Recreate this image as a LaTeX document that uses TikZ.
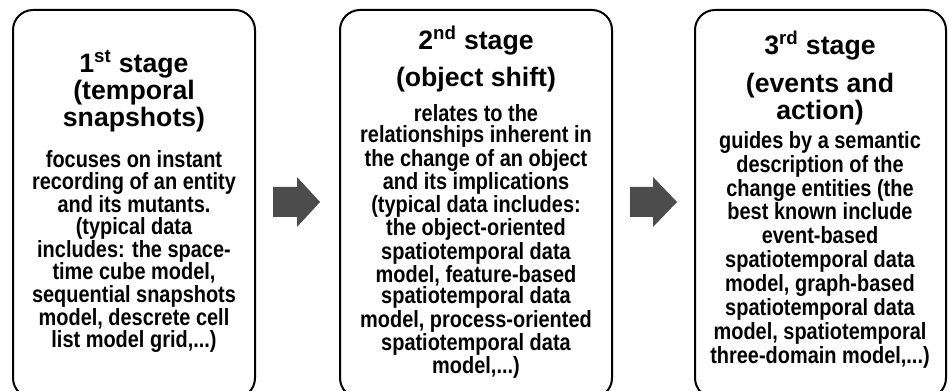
\documentclass[tikz,border=0pt]{standalone}
\usepackage{fontspec}
\setmainfont{Liberation Sans}
\newfontfamily\bodyfont[FakeStretch=0.85]{Liberation Sans}
\begin{document}
\begin{tikzpicture}[x=0.75pt,y=-0.75pt,
  stagebox/.style={draw=black,line width=1.5pt,rounded corners=15pt},
  titletxt/.style={font=\bfseries\fontsize{20}{20.25}\selectfont,align=center,inner sep=0pt,anchor=north},
  bodytxt/.style={align=center,inner sep=0pt,anchor=north},
  blockarrow/.style={fill=black!70,draw=none}]
\useasboundingbox (0,0) rectangle (949,391);
\clip (0,0) rectangle (949,391);
\fill[white] (0,0) rectangle (949,391);
% boxes
\draw[stagebox] (13,10) rectangle (255,398);
\draw[stagebox] (340,10) rectangle (612,398);
\draw[stagebox] (695,10) rectangle (946,398);
% titles
\node[titletxt] (t1) at (134,50) {1\textsuperscript{st} stage\\(temporal\\snapshots)};
\node[titletxt] (t2) at (476,26) {2\textsuperscript{nd} stage\\[7.5pt](object shift)};
\node[titletxt] (t3) at (820,31) {3\textsuperscript{rd} stage\\[8pt](events and\\action)};
% bodies
\node[bodytxt,font=\bodyfont\bfseries\fontsize{17.6}{16.9}\selectfont] (b1) at (134,150) {focuses on instant\\recording of an entity\\and its mutants.\\(typical data\\includes: the space-\\time cube model,\\sequential snapshots\\model, descrete cell\\list model grid,...)};
\node[bodytxt,font=\bodyfont\bfseries\fontsize{17.6}{16.2}\selectfont] (b2) at (476,104) {relates to the\\relationships inherent in\\the change of an object\\and its implications\\(typical data includes:\\the object-oriented\\spatiotemporal data\\model, feature-based\\spatiotemporal data\\model, process-oriented\\spatiotemporal data\\model,...)};
\node[bodytxt,font=\bodyfont\bfseries\fontsize{17.6}{17.9}\selectfont] (b3) at (820,131) {guides by a semantic\\description of the\\change entities (the\\best known include\\event-based\\spatiotemporal data\\model, graph-based\\spatiotemporal data\\model, spatiotemporal\\three-domain model,...)};
% arrows
\fill[blockarrow] (273,187) -- (297,187) -- (297,177) -- (320,202) -- (297,227) -- (297,217) -- (273,217) -- cycle;
\fill[blockarrow] (630,187) -- (653,187) -- (653,177) -- (677,202) -- (653,227) -- (653,217) -- (630,217) -- cycle;
\end{tikzpicture}
\end{document}
